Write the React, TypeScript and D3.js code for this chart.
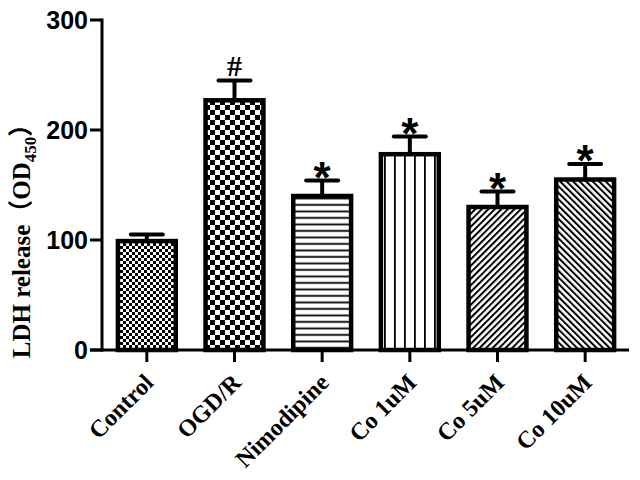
import React from "react";
import * as d3 from "d3";

const categories = ["Control", "OGD/R", "Nimodipine", "Co 1uM", "Co 5uM", "Co 10uM"];
const means = [99, 227, 140, 178, 130, 155];
const errors = [6, 18, 14, 16, 14, 14];
const marks = ["", "#", "*", "*", "*", "*"];
const yTicks = [0, 100, 200, 300];

const W = 640;
const H = 480;

export default function App() {
  const x = d3.scaleBand<string>().domain(categories).range([103, 629]).padding(0);
  const y = d3.scaleLinear().domain([0, 300]).range([350, 20]);
  const bw = x.bandwidth() * 0.66;
  const sans = "'Liberation Sans', Arial, sans-serif";
  const serif = "'Liberation Serif', 'Times New Roman', serif";

  return (
    <svg width={W} height={H} style={{ position: "absolute", left: 0, top: 0, background: "#fff" }}>
      <defs>
        <pattern id="p0" width="6" height="6" patternUnits="userSpaceOnUse">
          <rect width="6" height="6" fill="#fff" />
          <rect width="3" height="3" fill="#000" />
          <rect x="3" y="3" width="3" height="3" fill="#000" />
        </pattern>
        <pattern id="p1" width="10" height="10" patternUnits="userSpaceOnUse">
          <rect width="10" height="10" fill="#fff" />
          <rect width="5" height="5" fill="#000" />
          <rect x="5" y="5" width="5" height="5" fill="#000" />
        </pattern>
        <pattern id="p2" width="10" height="6.5" patternUnits="userSpaceOnUse">
          <rect width="10" height="6.5" fill="#fff" />
          <rect y="2.5" width="10" height="1.8" fill="#000" />
        </pattern>
        <pattern id="p3" width="10" height="10" patternUnits="userSpaceOnUse">
          <rect width="10" height="10" fill="#fff" />
          <rect x="4" width="1.8" height="10" fill="#000" />
        </pattern>
        <pattern id="p4" width="4.6" height="4.6" patternUnits="userSpaceOnUse" patternTransform="rotate(45)">
          <rect width="4.6" height="4.6" fill="#fff" />
          <rect width="2" height="4.6" fill="#000" />
        </pattern>
        <pattern id="p5" width="4.6" height="4.6" patternUnits="userSpaceOnUse" patternTransform="rotate(-45)">
          <rect width="4.6" height="4.6" fill="#fff" />
          <rect width="2" height="4.6" fill="#000" />
        </pattern>
      </defs>

      {/* bars */}
      {categories.map((c, i) => {
        const cx = (x(c) as number) + x.bandwidth() / 2;
        const top = y(means[i]);
        const errTop = y(means[i] + errors[i]);
        return (
          <g key={c}>
            <line x1={cx} x2={cx} y1={top} y2={errTop} stroke="#000" strokeWidth={4} />
            <line x1={cx - 16} x2={cx + 16} y1={errTop} y2={errTop} stroke="#000" strokeWidth={4} strokeLinecap="round" />
            <rect
              x={cx - bw / 2}
              y={top}
              width={bw}
              height={y(0) - top}
              fill={`url(#p${i})`}
              stroke="#000"
              strokeWidth={4.5}
            />
            {marks[i] && (
              <text
                x={cx}
                y={marks[i] === "#" ? errTop - 5 : errTop + 12}
                textAnchor="middle"
                fontFamily={marks[i] === "#" ? serif : sans}
                fontWeight="bold"
                fontSize={marks[i] === "#" ? 30 : 44}
                fill="#000"
              >
                {marks[i]}
              </text>
            )}
          </g>
        );
      })}

      {/* y axis */}
      <line x1={102} x2={102} y1={y(300) - 1.5} y2={y(0) + 1.5} stroke="#000" strokeWidth={3} />
      {yTicks.map((t) => (
        <g key={t}>
          <line x1={90} x2={102} y1={y(t)} y2={y(t)} stroke="#000" strokeWidth={3} />
          <text
            x={88}
            y={y(t)}
            dy="0.36em"
            textAnchor="end"
            fontFamily={sans}
            fontWeight="bold"
            fontSize={25}
            fill="#000"
          >
            {t}
          </text>
        </g>
      ))}

      {/* x axis */}
      <line x1={90} x2={629} y1={y(0)} y2={y(0)} stroke="#000" strokeWidth={3} />
      {categories.map((c) => {
        const cx = (x(c) as number) + x.bandwidth() / 2;
        return (
          <g key={c}>
            <line x1={cx} x2={cx} y1={y(0)} y2={y(0) + 12} stroke="#000" strokeWidth={3} />
            <text
              transform={`translate(${cx + 8},${y(0) + 34}) rotate(-45)`}
              textAnchor="end"
              fontFamily={serif}
              fontWeight="bold"
              fontSize={24}
              fill="#000"
            >
              {c}
            </text>
          </g>
        );
      })}

      {/* y title */}
      <text
        transform={`translate(30,${(y(0) + y(300)) / 2 + 50}) rotate(-90)`}
        textAnchor="middle"
        fontFamily={`${serif}, 'Noto Sans CJK SC'`}
        fontWeight="bold"
        fontSize={25}
        fill="#000"
      >
        LDH release（OD
        <tspan fontSize={17} dy={6}>450</tspan>
        <tspan dy={-6}>）</tspan>
      </text>
    </svg>
  );
}
